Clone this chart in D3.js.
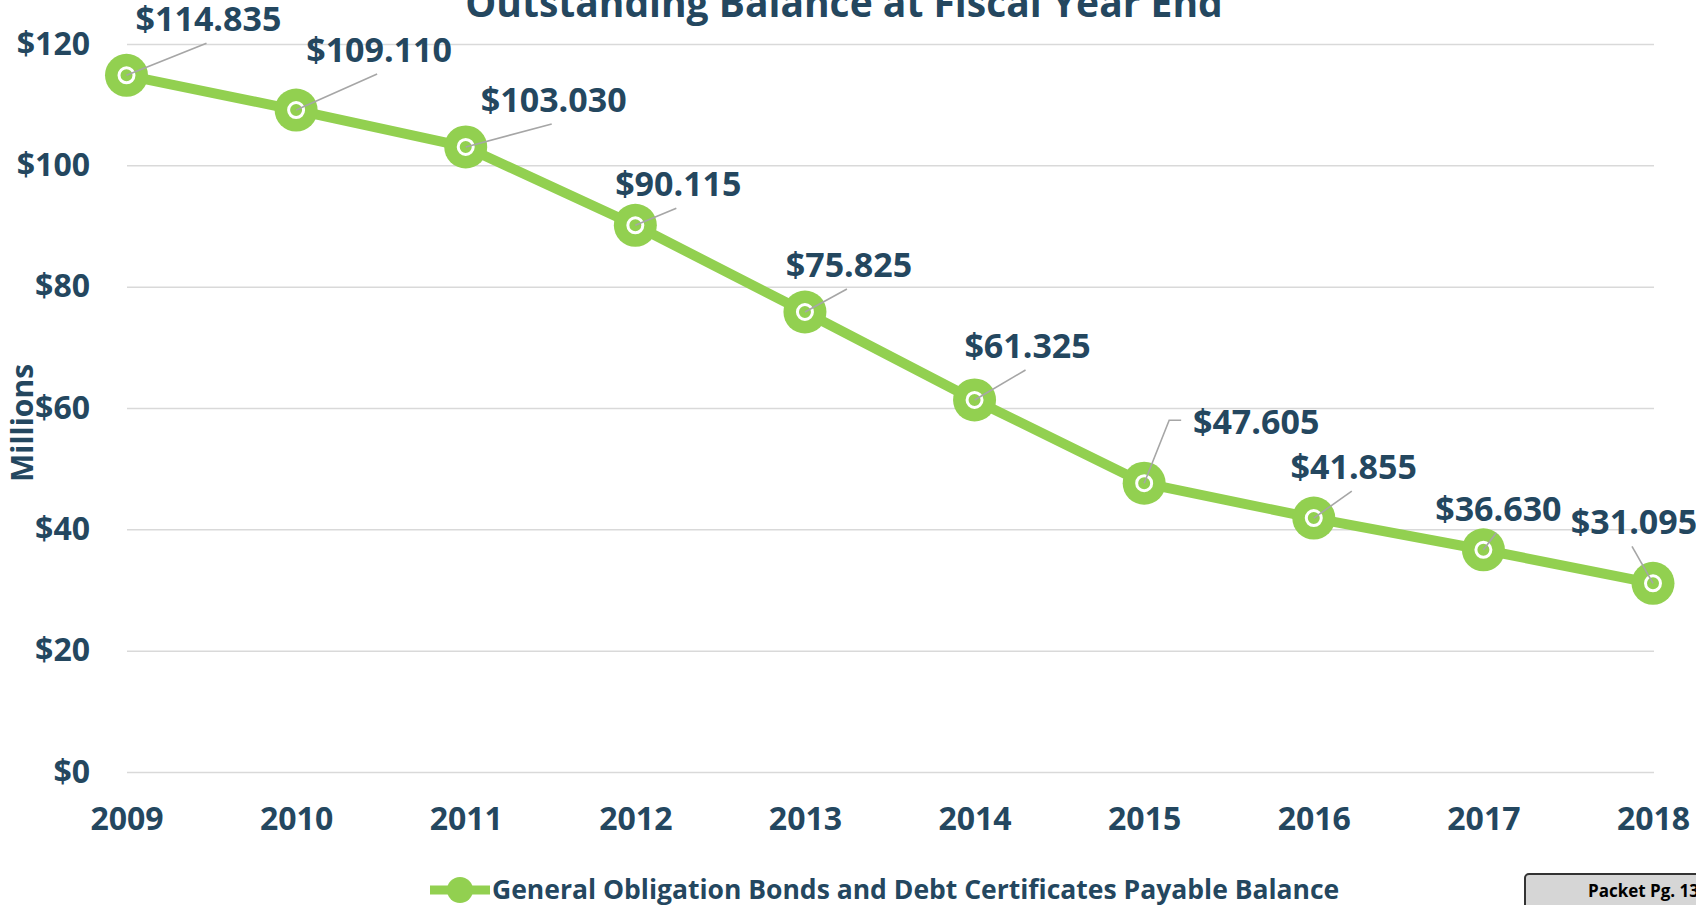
<!DOCTYPE html>
<html>
<head>
<meta charset="utf-8">
<script src="https://cdn.jsdelivr.net/npm/d3@7"></script>
<style>
  body { margin: 0; background: #fff; overflow: hidden; }
  #svg-container { width: 1696px; height: 905px; }
  text { font-family: "Open Sans", "DejaVu Sans", sans-serif; font-weight: 700; fill: #24475f; }
</style>
</head>
<body>
<div id="svg-container"></div>
<script>
////////////////////////////////////////////////////////////////////
////////////////////////////  Data  ////////////////////////////////
const years = ["2009", "2010", "2011", "2012", "2013", "2014", "2015", "2016", "2017", "2018"];
const balances = [114.835, 109.11, 103.03, 90.115, 75.825, 61.325, 47.605, 41.855, 36.63, 31.095];
const yTicks = [0, 20, 40, 60, 80, 100, 120];
const seriesName = "General Obligation Bonds and Debt Certificates Payable Balance";
const chartTitle = "Outstanding Balance at Fiscal Year End";

// where each data label sits, relative to its marker (px)
const labelOffsets = [
  [82, -56], [83, -60], [88, -47], [43, -41], [44, -47],
  [53, -54], [112, -61], [40, -51], [15, -41], [-19, -61],
];

////////////////////////////////////////////////////////////////////
////////////////////////////  Init  ////////////////////////////////
const width = 1696;
const height = 905;
const green = "#92d050";

const svg = d3
  .select("#svg-container")
  .append("svg")
  .attr("width", width)
  .attr("height", height);

const x = d3.scalePoint().domain(years).range([126.5, 1653]);
const y = d3.scaleLinear().domain([0, 120]).range([772, 44]);

// gridlines
svg
  .append("g")
  .attr("class", "grid")
  .attr("transform", "translate(127, 0)")
  .call(d3.axisLeft(y).tickValues(yTicks).tickSize(-(1654 - 127)).tickFormat(""))
  .call((g) => g.select(".domain").remove())
  .call((g) => g.selectAll("line").attr("stroke", "#d9d9d9").attr("stroke-width", 1.5));

// y axis labels
svg
  .append("g")
  .attr("class", "y-axis")
  .attr("transform", "translate(90, 0)")
  .call(d3.axisLeft(y).tickValues(yTicks).tickSize(0).tickPadding(0).tickFormat((d) => "$" + d))
  .call((g) => g.select(".domain").remove())
  .call((g) => g.selectAll("text").attr("font-size", 32).attr("fill", "#24475f").attr("font-family", null));

// x axis labels
svg
  .append("g")
  .attr("class", "x-axis")
  .attr("transform", "translate(0, 772)")
  .call(d3.axisBottom(x).tickSize(0).tickPadding(35))
  .call((g) => g.select(".domain").remove())
  .call((g) => g.selectAll("text").attr("font-size", 32).attr("fill", "#24475f").attr("font-family", null));

// axis title
svg
  .append("text")
  .attr("transform", "translate(33, 423) rotate(-90)")
  .attr("text-anchor", "middle")
  .attr("font-size", 30)
  .text("Millions");

// title (cut off at the top, as in the source)
svg
  .append("text")
  .attr("x", 844)
  .attr("y", 17)
  .attr("text-anchor", "middle")
  .attr("font-size", 39)
  .text(chartTitle);

////////////////////////////////////////////////////////////////////
////////////////////////////  Series  //////////////////////////////
const points = years.map((yr, i) => ({ year: yr, value: balances[i] }));

const line = d3
  .line()
  .x((d) => x(d.year))
  .y((d) => y(d.value));

svg
  .append("path")
  .datum(points)
  .attr("d", line)
  .attr("fill", "none")
  .attr("stroke", green)
  .attr("stroke-width", 10)
  .attr("stroke-linejoin", "round");

const markers = svg
  .selectAll(".marker")
  .data(points)
  .enter()
  .append("g")
  .attr("class", "marker")
  .attr("transform", (d) => `translate(${x(d.year)}, ${y(d.value)})`);

markers.append("circle").attr("r", 21.5).attr("fill", green);
markers
  .append("circle")
  .attr("r", 7.5)
  .attr("fill", green)
  .attr("stroke", "#fff")
  .attr("stroke-width", 3);

// data labels + leader lines
const fmt = d3.format("$.3f");
const labelW = (d) => (d.value >= 100 ? 148 : 130);

points.forEach((d, i) => {
  const mx = x(d.year);
  const my = y(d.value);
  const cx = mx + labelOffsets[i][0];
  const cy = my + labelOffsets[i][1];
  const w = labelW(d);
  let pts;
  if (labelOffsets[i][0] > w / 2 + 25) {
    // label sits off to the side: elbow into its left edge
    const left = cx - w / 2;
    pts = [[mx, my], [left - 22, cy - 2], [left - 10, cy - 2]];
  } else {
    pts = [[mx, my], [cx - 2, cy + 24]];
  }
  svg
    .append("path")
    .attr("d", d3.line()(pts))
    .attr("fill", "none")
    .attr("stroke", "#a6a6a6")
    .attr("stroke-width", 1.6);

  svg
    .append("text")
    .attr("x", cx)
    .attr("y", cy + 12)
    .attr("text-anchor", "middle")
    .attr("font-size", 34)
    .text(fmt(d.value));
});

////////////////////////////////////////////////////////////////////
////////////////////////////  Legend  //////////////////////////////
const legend = svg.append("g").attr("transform", "translate(430, 890)");
legend
  .append("line")
  .attr("x1", 0)
  .attr("x2", 60)
  .attr("stroke", green)
  .attr("stroke-width", 9);
legend.append("circle").attr("cx", 30).attr("r", 13).attr("fill", green);
legend
  .append("text")
  .attr("x", 62)
  .attr("y", 9)
  .attr("font-size", 26.5)
  .text(seriesName);

// page stamp in the bottom-right corner
svg
  .append("rect")
  .attr("x", 1525)
  .attr("y", 874)
  .attr("width", 200)
  .attr("height", 60)
  .attr("rx", 4)
  .attr("fill", "#d6d6d6")
  .attr("stroke", "#333")
  .attr("stroke-width", 2);
svg
  .append("text")
  .attr("x", 1588)
  .attr("y", 897)
  .attr("font-family", "Liberation Sans, Arial, sans-serif")
  .attr("font-size", 17)
  .style("fill", "#000")
  .text("Packet Pg. 136");
</script>
</body>
</html>
